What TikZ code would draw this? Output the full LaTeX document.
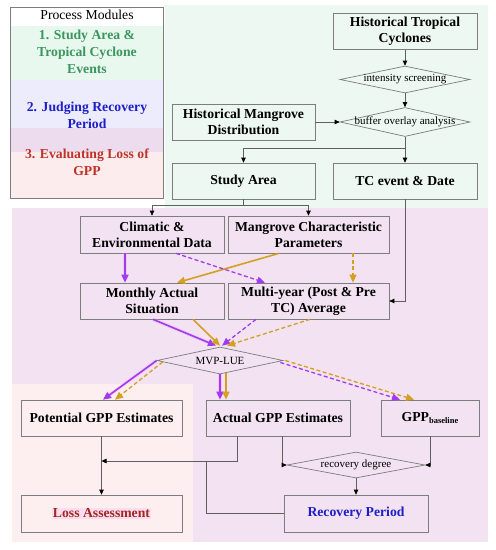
\documentclass[tikz,border=0pt]{standalone}
\usepackage{fontspec}
\setmainfont{Liberation Serif}
\usetikzlibrary{shapes.geometric,arrows.meta}
\definecolor{bggreen}{RGB}{237,248,242}
\definecolor{bgpurple}{RGB}{242,226,242}
\definecolor{bgpink}{RGB}{253,239,239}
\definecolor{lgreen}{RGB}{232,248,238}
\definecolor{llav}{RGB}{236,236,252}
\definecolor{lmauve}{RGB}{236,220,238}
\definecolor{lpink}{RGB}{252,236,238}
\definecolor{tgreen}{RGB}{60,150,95}
\definecolor{tblue}{RGB}{30,30,200}
\definecolor{tred}{RGB}{190,50,40}
\definecolor{tloss}{RGB}{160,40,30}
\definecolor{hlpink}{RGB}{252,220,240}
\definecolor{bgray}{RGB}{125,125,125}
\definecolor{lgray}{RGB}{95,95,95}
\definecolor{pur}{RGB}{160,60,240}
\definecolor{gold}{RGB}{212,160,32}
\definecolor{glow}{RGB}{245,160,235}
\begin{document}
\begin{tikzpicture}[x=1pt,y=-1pt,
  boxnode/.style={draw=bgray, line width=0.7pt, align=center, inner sep=1pt,
    font=\bfseries\fontsize{13.7}{16}\selectfont},
  dia/.style={draw=bgray, line width=0.7pt, diamond, inner sep=0pt},
  diatext/.style={inner sep=0pt, font=\fontsize{11}{13}\selectfont},
  legtext/.style={align=center, inner sep=0pt, font=\bfseries\fontsize{13.7}{17}\selectfont},
  conn/.style={draw=lgray, line width=0.7pt, -{Triangle[length=5pt,width=4.5pt,color=black]}},
  plain/.style={draw=lgray, line width=0.7pt},
  pusolid/.style={draw=pur, line width=1.6pt, -{Triangle[length=8pt,width=7pt]},
    preaction={draw=glow, line width=3.4pt, opacity=0.35}},
  godash/.style={draw=gold, line width=1.3pt, dash pattern=on 4pt off 2.5pt, -{Triangle[length=8pt,width=7pt]}},
  gosolid/.style={draw=gold, line width=1.6pt, -{Triangle[length=8pt,width=7pt]}},
  pudash/.style={draw=pur, line width=1.3pt, dash pattern=on 4pt off 2.5pt, -{Triangle[length=8pt,width=7pt]}}
]
\useasboundingbox (0,0) rectangle (496,550);
% backgrounds
\fill[white] (0,0) rectangle (496,550);
\fill[bggreen] (165,5) rectangle (488,208);
\fill[bgpurple] (12,208) rectangle (488,542);
\fill[bgpink] (12,384) rectangle (193,542);
% legend
\fill[white] (10,7) rectangle (163,26);
\fill[lgreen] (10,26) rectangle (163,80);
\fill[llav] (10,80) rectangle (163,128);
\fill[lmauve] (10,128) rectangle (163,152);
\fill[lpink] (10,152) rectangle (163,198);
\draw[bgray, line width=0.7pt] (10,7) rectangle (163,198);
\node[inner sep=0pt, font=\fontsize{13.7}{16}\selectfont] (legtitle) at (87,15) {Process Modules};
\node[legtext, text=tgreen] (leg1) at (87,52) {1. Study Area \&\\Tropical Cyclone\\Events};
\node[legtext, text=tblue] (leg2) at (87,115) {2. Judging Recovery\\Period};
\node[legtext, text=tred] (leg3) at (87,162) {3. Evaluating Loss of\\GPP};
% top section
\node[boxnode, minimum width=144pt, minimum height=36pt] (htc) at (405,31.5) {Historical Tropical\\Cyclones};
\node[dia, minimum width=130pt, minimum height=27pt] (ins) at (405,79.5) {};
\node[diatext] (inst) at (ins) {intensity screening};
\node[dia, minimum width=130pt, minimum height=29pt] (buf) at (405,122) {};
\node[diatext] (buft) at (buf) {buffer overlay analysis};
\node[boxnode, minimum width=143pt, minimum height=36pt] (hmd) at (243.5,122) {Historical Mangrove\\Distribution};
\node[boxnode, minimum width=143pt, minimum height=36pt] (study) at (243.5,181) {Study Area};
\node[boxnode, minimum width=144pt, minimum height=36pt] (tc) at (405,181) {TC event \& Date};
% middle
\node[boxnode, minimum width=144pt, minimum height=37pt] (clim) at (152,234.5) {Climatic \&\\Environmental Data};
\node[boxnode, minimum width=161pt, minimum height=37pt] (mcp) at (308.5,234.5) {Mangrove Characteristic\\Parameters};
\node[boxnode, minimum width=144pt, minimum height=36pt] (monthly) at (152,301) {Monthly Actual\\Situation};
\node[boxnode, minimum width=161pt, minimum height=36pt] (multi) at (308.5,301) {Multi-year (Post \& Pre\\TC) Average};
\node[dia, minimum width=126pt, minimum height=27pt] (mvp) at (220,360.5) {};
\node[diatext] (mvpt) at (mvp) {MVP-LUE};
% bottom
\node[boxnode, minimum width=161pt, minimum height=36pt] (pot) at (101.5,418) {Potential GPP Estimates};
\node[boxnode, minimum width=144pt, minimum height=36pt] (act) at (278,418) {Actual GPP Estimates};
\node[boxnode, minimum width=98pt, minimum height=36pt] (base) at (430,418) {GPP\raisebox{-2.5pt}{\fontsize{8.5}{10}\selectfont baseline}};
\node[dia, minimum width=138pt, minimum height=26pt] (recdeg) at (356,465) {};
\node[diatext] (recdegt) at (recdeg) {recovery degree};
\node[boxnode, minimum width=161pt, minimum height=37pt] (loss) at (101.5,513.5) {{\setlength{\fboxsep}{0.8pt}\colorbox{hlpink}{\textcolor{tloss}{Loss Assessment}}}};
\node[boxnode, minimum width=144pt, minimum height=37pt, text=tblue] (rec) at (356,513.5) {Recovery Period};
% black connectors
\coordinate (j1) at (405,148);
\coordinate (j2) at (243.5,205);
\coordinate (m1) at (101.5,461);
\coordinate (j4) at (206,461);
\draw[conn] (htc) -- (ins);
\draw[conn] (ins) -- (buf);
\draw[conn] (hmd) -- (buf.west);
\draw[conn] (buf.south) -- (tc.north);
\draw[conn] (j1) -| (study.north);
\draw[plain] (study.south) -- (j2);
\draw[conn] (j2) -| (clim.north);
\draw[conn] (j2) -| (mcp.north);
\draw[conn] (tc.south) |- (multi.east);
\draw[conn] (pot) -- (loss);
\draw[conn] ([xshift=-41pt]act.south) |- (m1);
\draw[plain] (j4) |- (rec.west);
\draw[conn] ([xshift=4pt]act.south) |- (recdeg.west);
\draw[conn] (base.south) |- (recdeg.east);
\draw[conn] (recdeg) -- (rec);
% coloured arrows
\draw[pusolid] ([xshift=-27pt]clim.south) -- ([xshift=-27pt]monthly.north);
\draw[gosolid] ([xshift=-29.5pt]mcp.south) -- ([xshift=25pt]monthly.north);
\draw[pudash] ([xshift=24pt]clim.south) -- ([xshift=-43.5pt]multi.north);
\draw[godash] ([xshift=44.5pt]mcp.south) -- ([xshift=44.5pt]multi.north);
\draw[pusolid] ([xshift=1pt]monthly.south) -- ([xshift=-4pt,yshift=1pt]mvp.north);
\draw[gosolid] ([xshift=41pt]monthly.south) -- ([xshift=0pt,yshift=1pt]mvp.north);
\draw[pudash] ([xshift=-52.5pt]multi.south) -- ([xshift=2pt,yshift=1pt]mvp.north);
\draw[godash] ([xshift=1.5pt]multi.south) -- ([xshift=7pt,yshift=1pt]mvp.north);
\draw[pusolid] (mvp.west) -- ([xshift=1.5pt]pot.north);
\draw[godash] ([xshift=6pt,yshift=-1.5pt]mvp.west) -- ([xshift=13.5pt]pot.north);
\draw[pusolid] (mvp.south) -- ([xshift=-58pt]act.north);
\draw[gosolid] ([xshift=6pt,yshift=1pt]mvp.south) -- ([xshift=-52pt]act.north);
\draw[pudash] ([xshift=-3pt,yshift=-2pt]mvp.east) -- ([xshift=-30pt]base.north);
\draw[godash] ([xshift=2pt,yshift=0pt]mvp.east) -- ([xshift=-16pt]base.north);
\end{tikzpicture}
\end{document}
